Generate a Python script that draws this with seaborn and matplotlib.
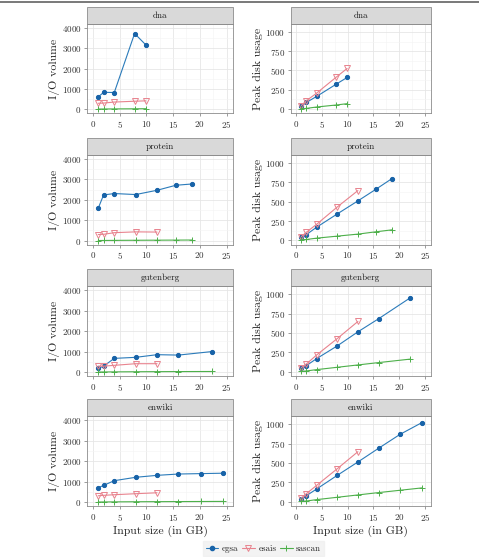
import numpy as np
import pandas as pd
import matplotlib
matplotlib.use('Agg')
import matplotlib.pyplot as plt
from matplotlib.patches import Rectangle
from matplotlib.lines import Line2D
import seaborn as sns

datasets = ['dna', 'protein', 'gutenberg', 'enwiki']
algos = ['egsa', 'esais', 'sascan']

# input sizes (GB) per dataset and algorithm
x_dna = [1, 2, 4, 7.8, 9.9]
x_protein = [1, 2, 4, 8, 12, 15.5, 18.6]
x_gutenberg = [1, 2, 4, 8, 12, 16, 22.2]
x_enwiki = [1, 2, 4, 8, 12, 16, 20.2, 24.4]
x_esais = [1, 2, 4, 8, 12]

# I/O volume
io_dna_egsa = [600, 830, 820, 3730, 3170]
io_dna_esais = [290, 300, 350, 390, 410]
io_dna_sascan = [5, 8, 12, 18, 22]
io_protein_egsa = [1590, 2240, 2310, 2260, 2470, 2715, 2780]
io_protein_esais = [300, 310, 390, 430, 420]
io_protein_sascan = [5, 8, 12, 18, 22, 26, 30]
io_gutenberg_egsa = [180, 290, 670, 720, 850, 830, 1000]
io_gutenberg_esais = [290, 290, 330, 410, 410]
io_gutenberg_sascan = [5, 8, 12, 18, 22, 26, 30]
io_enwiki_egsa = [700, 815, 1045, 1210, 1305, 1370, 1390, 1410]
io_enwiki_esais = [310, 330, 360, 410, 455]
io_enwiki_sascan = [5, 8, 12, 18, 22, 26, 30, 34]

# peak disk usage
pk_dna_egsa = [40, 86, 164, 323, 409]
pk_dna_esais = [45, 108, 207, 414, 526]
pk_dna_sascan = [3, 8, 26, 52, 69]
pk_protein_egsa = [43, 77, 172, 343, 511, 661, 798]
pk_protein_esais = [50, 107, 210, 433, 644]
pk_protein_sascan = [9, 13, 30, 56, 82, 112, 137]
pk_gutenberg_egsa = [47, 82, 172, 335, 515, 682, 953]
pk_gutenberg_esais = [56, 103, 219, 429, 648]
pk_gutenberg_sascan = [8, 13, 30, 60, 90, 120, 165]
pk_enwiki_egsa = [43, 81, 167, 342, 513, 688, 868, 1017]
pk_enwiki_esais = [51, 107, 214, 427, 645]
pk_enwiki_sascan = [10, 12, 30, 60, 90, 120, 150, 180]

xs = {'dna': x_dna, 'protein': x_protein, 'gutenberg': x_gutenberg, 'enwiki': x_enwiki}
g = globals()

rows = []
for d in datasets:
    for a in algos:
        xv = x_esais if (a == 'esais' and d != 'dna') else xs[d]
        for metric, pre in [('io', 'io'), ('peak', 'pk')]:
            for xi, yi in zip(xv, g['%s_%s_%s' % (pre, d, a)]):
                rows.append((d, a, metric, xi, yi))
df = pd.DataFrame(rows, columns=['dataset', 'algo', 'metric', 'size', 'value'])

colors = {'egsa': '#2B7BBA', 'esais': '#E8838E', 'sascan': '#4DAF4A'}
mk = {'egsa': dict(marker='o', markersize=3, markerfacecolor='#1863A8', markeredgecolor='#1863A8'),
      'esais': dict(marker='v', markersize=4.2, markerfacecolor='none', markeredgecolor='#E8838E', markeredgewidth=0.7),
      'sascan': dict(marker='+', markersize=4.2, markeredgecolor='#4DAF4A', markeredgewidth=0.7)}

sns.set_style('white')
plt.rcParams['font.family'] = ['cmr10', 'DejaVu Serif']
plt.rcParams['mathtext.fontset'] = 'cm'
plt.rcParams['axes.formatter.use_mathtext'] = True

W, H = 479, 557
fig = plt.figure(figsize=(W / 100, H / 100), dpi=100)
fig.add_artist(Line2D([0, 1], [1 - 1.5 / H, 1 - 1.5 / H], color='#6E6E6E', lw=1.3))

row_px = [(24, 113), (155, 244.5), (286, 376), (416, 506)]
col_px = [(87, 233), (290.5, 431)]
strip_h = 17

for r, d in enumerate(datasets):
    top, bot = row_px[r]
    for c, metric in enumerate(['io', 'peak']):
        left, right = col_px[c]
        ax = fig.add_axes([left / W, 1 - bot / H, (right - left) / W, (bot - top) / H])
        sub = df[(df.dataset == d) & (df.metric == metric)]
        for a in algos:
            sns.lineplot(data=sub[sub.algo == a], x='size', y='value', color=colors[a],
                         lw=0.8, ax=ax, legend=False, **mk[a])
        ax.set_xlim(-1.1, 26.2)
        ax.set_xticks([0, 5, 10, 15, 20, 25])
        ax.set_xticks([2.5, 7.5, 12.5, 17.5, 22.5], minor=True)
        if metric == 'io':
            ax.set_ylim(-190, 4200)
            ax.set_yticks([0, 1000, 2000, 3000, 4000])
            ax.set_yticks([500, 1500, 2500, 3500], minor=True)
            ax.set_ylabel('I/O volume', fontsize=8.5, labelpad=1.5)
        else:
            ax.set_ylim(-52, 1103)
            ax.set_yticks([0, 250, 500, 750, 1000])
            ax.set_yticks([125, 375, 625, 875], minor=True)
            ax.set_ylabel('Peak disk usage', fontsize=8.5, labelpad=1.5)
        ax.grid(True, which='major', color='#E6E6E6', lw=0.6)
        ax.grid(True, which='minor', color='#F3F3F3', lw=0.4)
        ax.set_axisbelow(True)
        for s in ax.spines.values():
            s.set_color('#8C8C8C')
            s.set_linewidth(0.6)
        ax.tick_params(which='major', labelsize=6.5, length=2.5, width=0.6, color='#8C8C8C',
                       pad=1.5, labelcolor='#333333', left=True, bottom=True)
        ax.tick_params(which='minor', length=0)
        if r == 3:
            ax.set_xlabel('Input size (in GB)', fontsize=8.5, labelpad=2.5)
        else:
            ax.set_xlabel('')
        h = strip_h / (bot - top)
        ax.add_patch(Rectangle((0, 1), 1, h, transform=ax.transAxes, clip_on=False,
                               facecolor='#D9D9D9', edgecolor='#8C8C8C', lw=0.6))
        ax.text(0.5, 1 + h / 2, d, transform=ax.transAxes, ha='center', va='center',
                fontsize=6.5, color='#1A1A1A')

handles = [Line2D([], [], color=colors[a], lw=0.8, **mk[a]) for a in algos]
leg = fig.legend(handles, algos, loc='center', bbox_to_anchor=(263.5 / W, 1 - 548.5 / H), ncol=3,
                 fontsize=6.5, frameon=True, handlelength=1.4, handletextpad=0.4, columnspacing=0.4,
                 borderpad=0.35, fancybox=False)
leg.get_frame().set_facecolor('#F0F0F0')
leg.get_frame().set_edgecolor('#F0F0F0')

fig.savefig('out.png', dpi=100)
